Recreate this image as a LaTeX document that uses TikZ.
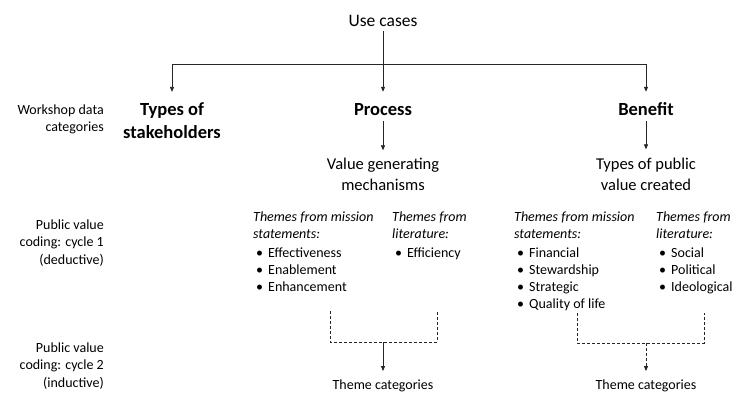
\documentclass[tikz,border=0pt]{standalone}
\usepackage{fontspec}
\setmainfont{Carlito}
\usetikzlibrary{positioning, arrows.meta}

\newcommand{\itm}[1]{\hspace*{3pt}\makebox[12pt][l]{\textbullet}#1}

\begin{document}
\begin{tikzpicture}[x=1pt, y=-1pt, node distance=20pt, on grid]
    \tikzset{
        conn/.style={draw=black!85, line width=0.8pt},
        arr/.style={conn, -{Triangle[length=5pt, width=4pt]}},
        dsh/.style={conn, dash pattern=on 3pt off 2pt},
        rowlabel/.style={align=right, anchor=base east, inner sep=0pt, font=\fontsize{14}{17.5}\selectfont},
        cat/.style={align=center, anchor=base, inner sep=0pt, font=\bfseries\fontsize{18.5}{23}\selectfont},
        sub/.style={align=center, anchor=base, inner sep=0pt, font=\fontsize{16.5}{21}\selectfont},
        theme/.style={align=left, anchor=base west, inner sep=0pt, font=\itshape\fontsize{14}{16.5}\selectfont},
        items/.style={align=left, anchor=base west, inner sep=0pt, font=\fontsize{14}{17}\selectfont},
        result/.style={anchor=base, inner sep=0pt, font=\fontsize{14}{17}\selectfont}
    }
    \useasboundingbox (0,0) rectangle (734,393);

    % TOP
    \node[sub, font=\fontsize{17.5}{21}\selectfont] (usecases) at (383,27) {Use cases};

    % ROW LABELS (base = last line)
    \node[rowlabel] (lworkshop) at (104,132) {Workshop data\\categories};
    \node[rowlabel] (lcycleone) at (104,264) {Public value\\coding: cycle 1\\(deductive)};
    \node[rowlabel] (lcycletwo) at (104,387) {Public value\\coding: cycle 2\\(inductive)};

    % CATEGORIES
    \node[cat] (process) at (383,116) {Process};
    \node[cat] (stake) at (172,139) {Types of\\stakeholders};
    \node[cat] (benefit) at (646,116) {Benefit};

    \node[sub] (mechanisms) at (383,191) {Value generating\\mechanisms};
    \node[sub] (created) at (646,191) {Types of public\\value created};

    % CYCLE 1 THEMES
    \node[theme] (pmission) at (253,238) {Themes from mission\\statements:};
    \node[theme] (pliterature) at (392,238) {Themes from\\literature:};
    \node[theme] (bmission) at (514,238) {Themes from mission\\statements:};
    \node[theme] (bliterature) at (656,238) {Themes from\\literature:};

    \node[items] (plist) at (253,291) {\itm{Effectiveness}\\\itm{Enablement}\\\itm{Enhancement}};
    \node[items] (pllist) at (392,257) {\itm{Efficiency}};
    \node[items] (blist) at (514,308) {\itm{Financial}\\\itm{Stewardship}\\\itm{Strategic}\\\itm{Quality of life}};
    \node[items] (bllist) at (656,291) {\itm{Social}\\\itm{Political}\\\itm{Ideological}};

    % CYCLE 2
    \node[result] (pthemes) at (383,389) {Theme categories};
    \node[result] (bthemes) at (646,389) {Theme categories};

    % CONNECTORS
    \coordinate (bar) at (383,64);
    \draw[conn] (bar -| stake) -- (bar -| benefit);
    \draw[arr, shorten <=4pt, shorten >=12pt] (usecases) -- (process);
    \draw[arr, shorten >=11pt] (bar -| stake) -- (stake);
    \draw[arr, shorten >=11pt] (bar -| benefit) -- (benefit);
    \draw[arr, shorten <=5pt, shorten >=8pt] (process) -- (mechanisms);
    \draw[arr, shorten <=5pt, shorten >=9pt] (benefit) -- (created);

    \coordinate (pjoin) at (383,342);
    \coordinate (bjoin) at (646,343);
    \draw[dsh] (330,311) -- (330,342) -- (437,342) -- (437,311);
    \draw[dsh] (577,313) -- (577,343) -- (704,343) -- (704,313);
    \draw[arr, shorten >=8pt] (pjoin) -- (pthemes);
    \draw[arr, dsh, shorten >=8pt] (bjoin) -- (bthemes);
\end{tikzpicture}
\end{document}
